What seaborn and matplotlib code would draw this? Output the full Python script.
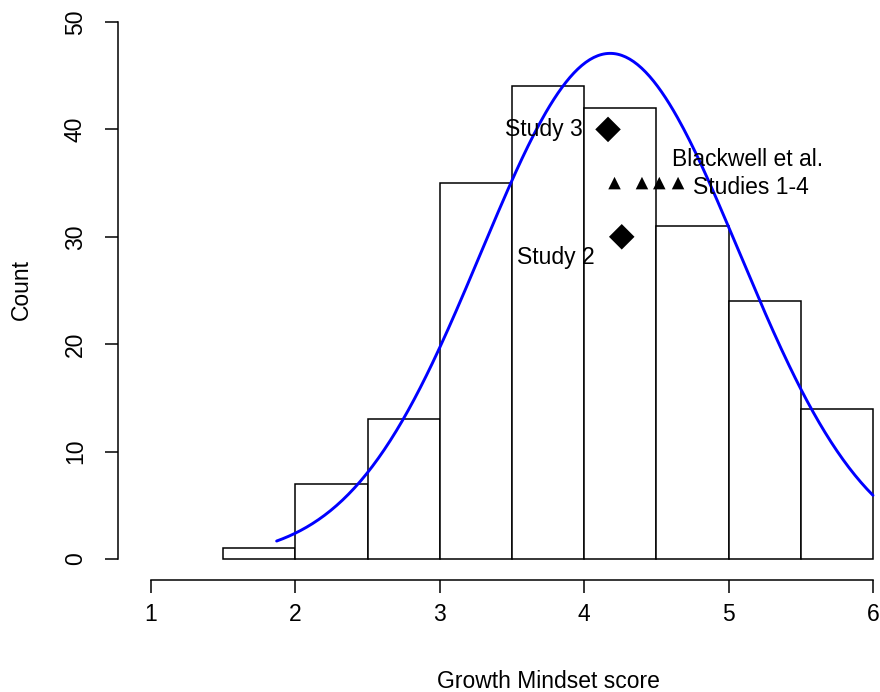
import numpy as np
import pandas as pd
import matplotlib
matplotlib.use("Agg")
import matplotlib.pyplot as plt
import seaborn as sns

# ---- data ----
bin_edges = [1.5, 2.0, 2.5, 3.0, 3.5, 4.0, 4.5, 5.0, 5.5, 6.0]
bin_counts = [1, 7, 13, 35, 44, 42, 31, 24, 14]
fit_mean = 4.18
fit_sd = 0.894
curve_range = [1.87, 6.0]
study_x = [4.165, 4.26]
study_y = [40, 30]
study_labels = ["Study 3", "Study 2"]
blackwell_x = [4.21, 4.40, 4.52, 4.65]
blackwell_y = [35, 35, 35, 35]
x_ticks = [1, 2, 3, 4, 5, 6]
y_ticks = [0, 10, 20, 30, 40, 50]

sns.set_style("ticks")
plt.rcParams['font.family'] = ['Liberation Sans', 'DejaVu Sans']
plt.rcParams['text.color'] = 'black'
plt.rcParams['axes.labelcolor'] = 'black'
plt.rcParams['xtick.color'] = 'black'
plt.rcParams['ytick.color'] = 'black'

FS = 16.5
W, H = 880, 692
fig = plt.figure(figsize=(W / 100, H / 100), dpi=100)
ax = fig.add_axes([151 / W, 1 - 559 / H, (873 - 151) / W, (559 - 22) / H])

centers = [(a + b) / 2 for a, b in zip(bin_edges[:-1], bin_edges[1:])]
hist_df = pd.DataFrame({"score": centers, "count": bin_counts})
sns.histplot(data=hist_df, x="score", weights="count", bins=bin_edges,
             stat="count", color="white", edgecolor="black", linewidth=1.1,
             alpha=1, ax=ax)
for p in ax.patches:
    p.set_clip_on(False)

n_total = sum(bin_counts)
bw = bin_edges[1] - bin_edges[0]
xs = np.linspace(curve_range[0], curve_range[1], 300)
ys = n_total * bw * np.exp(-0.5 * ((xs - fit_mean) / fit_sd) ** 2) / (fit_sd * np.sqrt(2 * np.pi))
sns.lineplot(x=xs, y=ys, color="#0000FF", linewidth=2.1, ax=ax)
for l in ax.lines:
    l.set_clip_on(False)

sns.scatterplot(x=study_x, y=study_y, marker="D", s=13 ** 2, color="black",
                edgecolor="none", ax=ax, zorder=5)
sns.scatterplot(x=blackwell_x, y=blackwell_y, marker="^", s=9 ** 2, color="black",
                edgecolor="none", ax=ax, zorder=5)

ax.text(3.99, 40, study_labels[0], ha="right", va="center", fontsize=FS)
ax.text(3.80, 28.1, study_labels[1], ha="center", va="center", fontsize=FS)
ax.text(4.605, 37.2, "Blackwell et al.", ha="left", va="center", fontsize=FS)
ax.text(4.75, 34.6, "Studies 1-4", ha="left", va="center", fontsize=FS)

ax.set_xlim(1, 6)
ax.set_ylim(0, 50)
ax.set_xticks(x_ticks)
ax.set_yticks(y_ticks)
ax.set_xticklabels([str(t) for t in x_ticks])
ax.set_yticklabels([str(t) for t in y_ticks])
ax.set_xlabel("")
ax.set_ylabel("")

for s in ["top", "right"]:
    ax.spines[s].set_visible(False)
ax.spines["left"].set_position(("outward", 33 * 0.72))
ax.spines["bottom"].set_position(("outward", 21 * 0.72))
ax.spines["left"].set_bounds(0, 50)
ax.spines["bottom"].set_bounds(1, 6)
for s in ["left", "bottom"]:
    ax.spines[s].set_linewidth(1.1)
    ax.spines[s].set_color("black")
ax.tick_params(axis="both", length=13 * 0.72, width=1.1, color="black",
               labelsize=FS, labelcolor="black")
ax.tick_params(axis="y", pad=13, labelrotation=90)
ax.tick_params(axis="x", pad=7)
for lab in ax.get_yticklabels():
    lab.set_verticalalignment("center")
    lab.set_rotation(90)
ax.patch.set_alpha(0)

fig.text(548 / W, 1 - 681 / H, "Growth Mindset score", ha="center", va="center", fontsize=FS)
fig.text(21 / W, 1 - 290 / H, "Count", ha="center", va="center", fontsize=FS, rotation=90)

fig.savefig("out.png", dpi=100, facecolor="white")
